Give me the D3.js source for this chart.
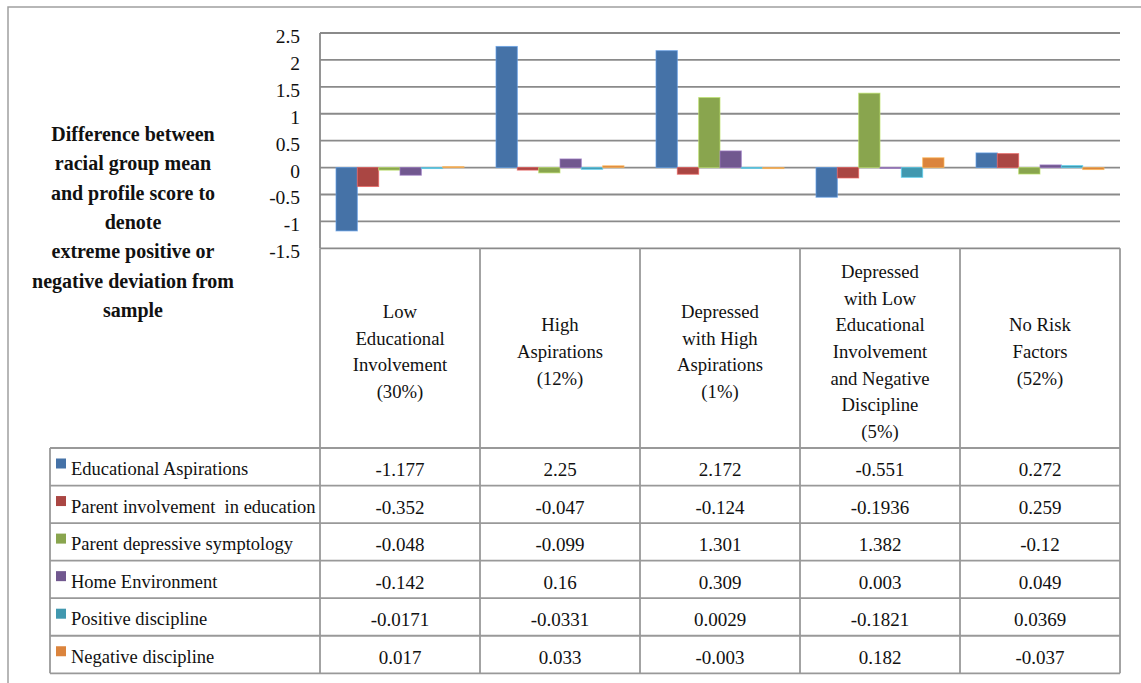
<!DOCTYPE html>
<html>
<head>
<meta charset="utf-8">
<script src="https://cdn.jsdelivr.net/npm/d3@7"></script>
</head>
<body style="margin:0">
<svg id="chart" width="1141" height="683"></svg>
<script>
// Profile groups (header lines of the data table)
const categories = [
  ["Low", "Educational", "Involvement", "(30%)"],
  ["High", "Aspirations", "(12%)"],
  ["Depressed", "with High", "Aspirations", "(1%)"],
  ["Depressed", "with Low", "Educational", "Involvement", "and Negative", "Discipline", "(5%)"],
  ["No Risk", "Factors", "(52%)"]
];

const seriesNames = [
  "Educational Aspirations",
  "Parent involvement  in education",
  "Parent depressive symptology",
  "Home Environment",
  "Positive discipline",
  "Negative discipline"
];

// Values per series, one per profile group; shown as text in the table too
const educationalAspirations = ["-1.177", "2.25", "2.172", "-0.551", "0.272"];
const parentInvolvement      = ["-0.352", "-0.047", "-0.124", "-0.1936", "0.259"];
const parentDepressive       = ["-0.048", "-0.099", "1.301", "1.382", "-0.12"];
const homeEnvironment        = ["-0.142", "0.16", "0.309", "0.003", "0.049"];
const positiveDiscipline     = ["-0.0171", "-0.0331", "0.0029", "-0.1821", "0.0369"];
const negativeDiscipline     = ["0.017", "0.033", "-0.003", "0.182", "-0.037"];

const seriesColors = ["#4572A7", "#AA4643", "#89A54E", "#71588F", "#4198AF", "#DB843D"];

const yTicks = ["2.5", "2", "1.5", "1", "0.5", "0", "-0.5", "-1", "-1.5"];

const titleLines = [
  "Difference between",
  "racial group mean",
  "and profile score to",
  "denote",
  "extreme positive or",
  "negative deviation from",
  "sample"
];

const seriesValues = [
  educationalAspirations, parentInvolvement, parentDepressive,
  homeEnvironment, positiveDiscipline, negativeDiscipline
];

const series = seriesNames.map((name, i) => ({
  name,
  color: seriesColors[i],
  labels: seriesValues[i],
  values: seriesValues[i].map(Number)
}));

const FONT = "'Liberation Serif', 'Times New Roman', Tinos";
const INK = "#111";

// Shared text styling applied to every label element
function serif(sel, size, weight) {
  return sel
    .style("font-family", FONT)
    .attr("font-size", size)
    .attr("font-weight", weight || "normal")
    .attr("fill", INK);
}

const svg = d3.select("#chart");

// Layout
const plot = { left: 320, right: 1120, top: 33, bottom: 248.3 };
const headerBottom = 448;
const tableLeft = 50;
const rowH = 37.55;
const gridColor = "#8a8a8a";
const tableColor = "#999999";

const x = d3.scaleBand()
  .domain(d3.range(categories.length))
  .range([plot.left, plot.right])
  .padding(0);

const xs = d3.scaleBand()
  .domain(d3.range(series.length))
  .range([0, x.bandwidth()])
  .paddingInner(0)
  .paddingOuter(0.75);

const y = d3.scaleLinear()
  .domain([-1.5, 2.5])
  .range([plot.bottom, plot.top]);

// Outer frame
svg.append("path")
  .attr("d", `M8,683 V7 H1141`)
  .attr("fill", "none")
  .attr("stroke", "#a0a0a0")
  .attr("stroke-width", 1.5);

// Horizontal gridlines
svg.append("g")
  .selectAll("line")
  .data(yTicks)
  .join("line")
  .attr("x1", plot.left)
  .attr("x2", plot.right)
  .attr("y1", d => y(+d))
  .attr("y2", d => y(+d))
  .attr("stroke", gridColor)
  .attr("stroke-width", 1.8);

// Value axis labels
serif(svg.append("g")
  .selectAll("text")
  .data(yTicks)
  .join("text")
  .attr("x", 300)
  .attr("y", d => y(+d) + 10)
  .attr("text-anchor", "end"), 19.5)
  .text(d => d);

// Bars
const groups = svg.append("g")
  .selectAll("g")
  .data(series)
  .join("g")
  .attr("fill", d => d.color);

groups.each(function (s, si) {
  d3.select(this)
    .selectAll("rect")
    .data(s.values)
    .join("rect")
    .attr("x", (v, ci) => x(ci) + xs(si))
    .attr("width", xs.bandwidth())
    .attr("y", v => Math.min(y(v), y(0)))
    .attr("height", v => Math.max(1, Math.abs(y(v) - y(0))))
    .attr("stroke", d3.color(s.color).brighter(0.9))
    .attr("stroke-opacity", 0.7)
    .attr("stroke-width", 1);
});

// Value axis line
svg.append("line")
  .attr("x1", plot.left).attr("x2", plot.left)
  .attr("y1", plot.top).attr("y2", plot.bottom)
  .attr("stroke", gridColor)
  .attr("stroke-width", 1.8);

// Data table borders
const table = svg.append("g")
  .attr("stroke", tableColor)
  .attr("stroke-width", 1.8)
  .attr("fill", "none");

d3.range(categories.length + 1).forEach(i => {
  const xx = i < categories.length ? x(i) : plot.right;
  table.append("line")
    .attr("x1", xx).attr("x2", xx)
    .attr("y1", plot.bottom).attr("y2", headerBottom + rowH * series.length);
});

d3.range(series.length + 1).forEach(r => {
  table.append("line")
    .attr("x1", tableLeft).attr("x2", plot.right)
    .attr("y1", headerBottom + r * rowH).attr("y2", headerBottom + r * rowH);
});
table.append("line")
  .attr("x1", tableLeft).attr("x2", tableLeft)
  .attr("y1", headerBottom).attr("y2", headerBottom + rowH * series.length);

// Group names in the header cells
const lineGap = 26.7;
const headerMid = 358;
serif(svg.append("g")
  .selectAll("text")
  .data(categories)
  .join("text")
  .attr("text-anchor", "middle"), 18.7)
  .each(function (lines, ci) {
    d3.select(this)
      .selectAll("tspan")
      .data(lines)
      .join("tspan")
      .attr("x", x(ci) + x.bandwidth() / 2)
      .attr("y", (l, li) => headerMid + (li - (lines.length - 1) / 2) * lineGap)
      .text(l => l);
  });

// Legend keys, series names and values
const rows = svg.append("g")
  .selectAll("g")
  .data(series)
  .join("g")
  .attr("transform", (d, i) => `translate(0,${headerBottom + i * rowH})`);

rows.append("rect")
  .attr("x", 56)
  .attr("y", 10.5)
  .attr("width", 10)
  .attr("height", 10)
  .attr("fill", d => d.color);

serif(rows.append("text")
  .attr("x", 71)
  .attr("y", 27)
  .style("white-space", "pre"), 18.5)
  .text(d => d.name);

serif(rows.selectAll("text.val")
  .data(d => d.labels)
  .join("text")
  .attr("class", "val")
  .attr("x", (v, ci) => x(ci) + x.bandwidth() / 2)
  .attr("y", 28)
  .attr("text-anchor", "middle"), 19)
  .text(v => v);

// Value axis title
serif(svg.append("text")
  .attr("text-anchor", "middle"), 20, "bold")
  .selectAll("tspan")
  .data(titleLines)
  .join("tspan")
  .attr("x", 133)
  .attr("y", (d, i) => 141 + i * 29.3)
  .text(d => d);
</script>
</body>
</html>
